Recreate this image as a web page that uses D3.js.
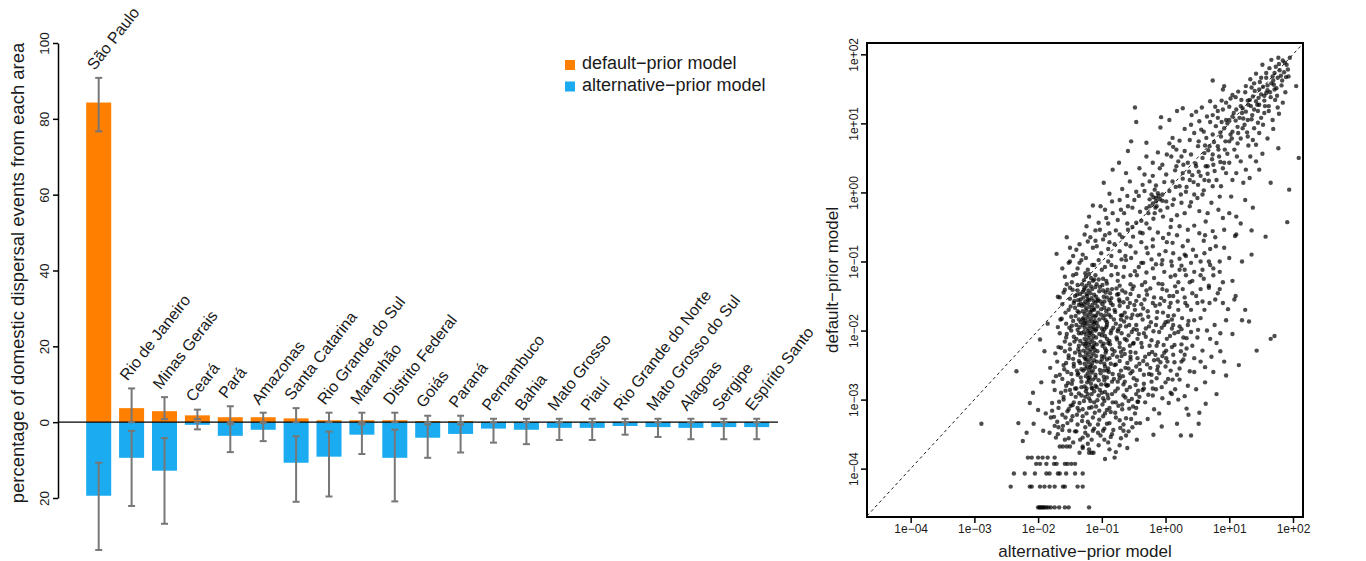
<!DOCTYPE html>
<html>
<head>
<meta charset="utf-8">
<script src="https://cdn.jsdelivr.net/npm/d3@7"></script>
<style>
  body { margin: 0; background: #fff; }
  text { font-family: "Liberation Sans", Arial, Helvetica, sans-serif; fill: #1a1a1a; }
</style>
</head>
<body>
<svg id="chart" width="1366" height="561"></svg>
<script>
// ---- bar chart data (percent of domestic dispersal events) ----
const regions = ["São Paulo", "Rio de Janeiro", "Minas Gerais", "Ceará", "Pará", "Amazonas", "Santa Catarina",
  "Rio Grande do Sul", "Maranhão", "Distrito Federal", "Goiás", "Paraná", "Pernambuco", "Bahia", "Mato Grosso",
  "Piauí", "Rio Grande do Norte", "Mato Grosso do Sul", "Alagoas", "Sergipe", "Espírito Santo"];
const defaultPct  = [84.3, 3.7, 2.9, 1.8, 1.3, 1.3, 1.0, 0.5, 0.5, 0.5, 0.3, 0.3, 0.1, 0.1, 0.1, 0.1, 0.1, 0.1, 0.1, 0.1, 0.1];
const defaultLow  = [76.7, 0.0, 0.8, 0.8, 0.0, 0.0, 0.0, 0.0, 0.0, 0.0, 0.0, 0.0, 0.0, 0.0, 0.0, 0.0, 0.0, 0.0, 0.0, 0.0, 0.0];
const defaultHigh = [90.8, 8.9, 6.6, 3.3, 4.2, 2.5, 3.7, 2.5, 2.5, 2.5, 1.7, 1.7, 0.9, 0.9, 0.9, 0.9, 0.9, 0.9, 0.9, 0.9, 0.9];
// alternative model is drawn downwards, values are positive percentages
const altPct  = [19.4, 9.4, 12.8, 0.7, 3.6, 2.0, 10.7, 9.1, 3.3, 9.4, 4.1, 3.1, 1.7, 2.0, 1.5, 1.5, 1.0, 1.3, 1.5, 1.3, 1.3];
const altLow  = [10.7, 2.3, 4.2, 0.0, 0.5, 0.2, 3.7, 2.5, 0.5, 2.0, 0.6, 0.6, 0.0, 0.0, 0.0, 0.0, 0.0, 0.0, 0.0, 0.0, 0.0];
const altHigh = [33.7, 22.1, 26.8, 1.9, 7.9, 5.0, 21.0, 19.6, 8.4, 20.9, 9.4, 8.0, 5.4, 5.8, 4.7, 4.7, 3.3, 3.9, 4.5, 4.5, 4.5];
const barTicks = [100, 80, 60, 40, 20, 0, -20];
const legendLabels = ["default\u2212prior model", "alternative\u2212prior model"];
const colors = ["#ff7f00", "#1aabf0"];

// ---- scatter data: [log10 alternative-prior, log10 default-prior] ----
const scatterUpper = [
  [1.63,1.80],[1.73,1.82],[1.79,1.77],[1.84,1.91],[1.71,1.73],[1.89,1.67],[1.76,1.66],[1.58,1.66],[1.50,1.66],[1.66,1.58],
  [1.53,1.53],[1.47,1.49],[1.39,1.58],[1.26,1.54],[1.71,1.49],[1.58,1.44],[1.37,1.39],[1.46,1.37],[1.32,1.34],[1.19,1.34],
  [1.21,1.22],[1.34,1.25],[1.47,1.27],[1.39,1.20],[1.26,1.17],[1.11,1.20],[1.00,1.24],[0.90,1.20],[1.05,1.10],[1.16,1.08],
  [1.29,1.05],[1.45,1.01],[1.53,0.98],[0.95,1.05],[0.82,1.08],[0.74,1.12],[0.79,0.96],[0.92,0.93],[1.05,0.88],[1.21,0.93],
  [1.29,0.81],[1.37,0.76],[1.42,0.69],[1.13,0.71],[1.00,0.74],[0.87,0.81],[0.74,0.84],[0.64,0.79],[0.69,0.67],[0.82,0.67],
  [0.56,0.91],[0.45,0.86],[0.53,1.03],[0.40,0.98],[0.38,0.76],[0.51,0.67],[0.61,0.57],[0.74,0.55],[0.92,0.43],[1.00,0.43],
  [1.11,0.28],[1.26,0.33],[1.32,0.21],[1.47,0.33],[0.87,0.09],[1.03,-0.06],[1.25,-0.11],[0.85,-0.06],[0.74,0.09],[0.61,0.18],
  [0.66,0.38],[0.48,0.38],[0.35,0.43],[0.25,0.52],[0.17,0.62],[0.06,0.71],[0.09,0.52],[0.17,0.38],[0.27,0.28],[0.38,0.18],
  [0.51,0.11],[0.58,-0.03],[0.45,-0.03],[0.32,0.01],[0.22,0.09],[0.11,0.16],[0.01,0.26],[-0.09,0.35],[-0.20,0.43],[-0.30,0.52],
  [-0.41,0.35],[-0.33,0.26],[-0.25,0.16],[-0.36,0.11],[-0.46,0.01],[-0.56,0.16],[-0.62,0.28],
  [0.74,1.62],[0.92,1.54],[0.70,1.32],[0.90,1.49],[1.05,1.41],[-0.48,1.23],[-0.46,1.02],[-0.07,1.09],[-0.08,0.94],[0.27,1.22],
  [0.48,1.17],[0.18,1.18],[0.06,1.05],[0.11,0.79],[-0.30,0.72],[-0.54,0.74],[-0.59,0.60],[-0.73,0.43],[-0.83,0.33],[-0.97,0.14],
  [2.05,1.54],[2.09,0.50],[1.94,0.04],[1.91,-0.43],[1.77,0.64],[1.65,0.14],[1.57,-0.64],[1.37,-0.22],
  [1.95,1.95],[1.90,1.85],[1.68,1.68],[1.60,1.55],[1.55,1.40],[1.62,1.25],[1.75,1.40],[1.82,1.55],[1.55,1.15],[1.68,1.05]
];
const scatterBand = [
  [1.81,1.69],[1.69,1.62],[1.86,1.74],[1.92,1.78],[1.74,1.51],[1.64,1.45],[1.55,1.33],[1.44,1.27],[1.36,1.12],[1.22,1.07],
  [1.13,0.95],[1.02,0.84],[0.94,0.74],[0.83,0.62],[0.73,0.48],[0.63,0.38],[0.55,0.24],[0.44,0.15],[0.33,0.08],[0.24,-0.03],
  [0.13,-0.10],[0.03,-0.22],[-0.08,-0.26],[-0.19,-0.38],[-0.30,-0.45],
  [1.58,1.73],[1.48,1.60],[1.40,1.47],[1.29,1.33],[1.18,1.25],[1.07,1.15],[0.97,1.00],[0.86,0.87],[0.76,0.73],[0.67,0.61],
  [0.58,0.50],[0.47,0.42],[0.37,0.30],[0.27,0.20],[0.16,0.08],[0.06,0.02],[-0.05,-0.12],[-0.16,-0.22],[-0.27,-0.30],[-0.38,-0.41],
  [1.72,1.34],[1.62,1.18],[1.50,1.08],[1.39,0.93],[1.28,0.87],[1.18,0.78],[1.08,0.62],[0.97,0.56],[0.86,0.44],[0.77,0.31],
  [0.68,0.17],[0.60,0.03],[0.50,-0.08],[0.40,-0.14],[0.30,-0.30],[0.18,-0.33],[0.08,-0.50],
  [1.66,1.92],[1.77,1.95],[1.52,1.85],[1.42,1.72],[1.33,1.64],[1.14,1.46],[1.02,1.36],[0.88,1.33],[0.78,1.24],[0.65,1.10],
  [0.57,1.23],[0.41,1.12],[0.30,0.92],[0.22,0.75],[0.12,0.66],[0.02,0.55],[-0.12,0.58],[-0.20,0.24],[-0.33,0.02],[-0.42,-0.05],
  [-0.52,-0.22],[-0.65,-0.30],
  [1.88,1.45],[1.84,1.30],[1.78,1.14],[1.69,0.92],[1.60,0.78],[1.52,0.56],[1.42,0.45],[1.33,0.52],[1.18,0.45],[1.22,0.14],
  [1.05,0.18],[0.95,0.28],[0.80,0.18],[0.72,-0.15],[0.63,-0.42],[0.83,-0.25],[1.00,-0.30],[1.18,-0.45],[1.35,-0.55],
  [0.40,0.55],[0.52,0.74],[0.60,0.88],[0.70,1.02],[0.82,1.18],[0.95,1.30],[1.10,1.38],[1.25,1.45],[1.35,1.52],[-0.02,0.15],
  [0.15,0.32],[0.28,0.40],[-0.25,-0.20],[-0.40,-0.28],[-0.60,-0.45],[-0.78,-0.55],[-0.95,-0.62],[-1.10,-0.70],[-0.70,-0.25],[-0.90,-0.45],
  [1.83,1.62],[1.70,1.56],[1.60,1.48],[1.50,1.42],[1.42,1.32],[1.30,1.27],[1.20,1.15],[1.10,1.04],[1.65,1.38],[1.56,1.25],
  [1.45,1.18],[1.35,1.06],[1.24,0.98],[1.14,0.86],[1.04,0.78],[0.93,0.62],[0.84,0.52],[0.75,0.40],[1.78,1.86],[1.87,1.88],
  [1.93,1.68],[1.76,1.23],[1.47,0.86],[1.30,0.68],[1.12,0.52],[0.90,0.35],[0.66,0.27],[0.52,0.30],[0.42,0.25],[0.30,0.60],
  [0.20,0.45],[-0.05,0.40],[-0.15,0.10],[0.62,0.68],[0.88,1.02],[1.00,1.05]
];
const scatterMiddle = [
  [-0.49,-0.11],[-0.59,-0.20],[-0.72,-0.11],[-0.30,-0.23],[-0.17,-0.30],[-0.04,-0.35],[0.09,-0.40],[0.22,-0.49],[0.35,-0.54],
  [0.53,-0.59],[0.74,-0.56],[0.92,-0.54],[1.11,-0.35],[1.11,-0.61],[0.90,-0.37],[0.66,-0.30],[0.53,-0.27],[0.38,-0.20],
  [0.25,-0.15],[0.11,-0.18],[0.01,-0.13],
  [-0.15,-0.08],[-0.22,-0.03],[-0.12,-0.01],[-0.15,-0.13],[-0.20,-0.16],[-0.09,-0.10],[-0.25,-0.10],[-0.14,-0.20],
  [-0.05,-0.03],[-0.17,0.04],[-0.11,-0.05],[-0.19,-0.07],
  [-0.83,-0.30],[-0.93,-0.37],[-0.75,-0.40],[-1.03,-0.54],[-0.88,-0.59],[-0.72,-0.61],[-0.59,-0.54],[-0.46,-0.44],
  [-0.51,-0.64],[-0.36,-0.59],[-0.20,-0.68],[-0.04,-0.66],[0.11,-0.73],[0.27,-0.78],[0.43,-0.83],[0.61,-0.88],[0.79,-0.78],
  [0.92,-0.80],[1.09,-0.63],[-1.22,-0.71],[-1.14,-0.80],[-1.01,-0.88],[-0.85,-0.92],[-0.69,-0.97],[-0.54,-0.95],[-0.38,-1.02],
  [-0.22,-0.97],[-0.06,-1.04],[0.09,-1.00],[0.25,-1.06],[0.40,-1.02],[0.32,-0.92],[-1.40,-0.83],[-1.71,-0.89],[-1.27,-0.61],
  [-0.84,-0.13],[-1.14,-0.19],[-1.24,-0.49],[-1.05,-0.44],[-0.95,-0.25],[-0.62,-0.75],[-0.30,-0.80],[0.00,-0.85],[0.55,-1.00],
  [0.75,-1.10],[-1.55,-0.65],[-1.50,-1.00],[-1.30,-0.90],
  [-1.35,-0.75],[-1.18,-0.65],[-1.08,-0.78],[-0.98,-0.68],[-0.90,-0.82],[-0.80,-0.75],[-0.72,-0.85],[-0.63,-0.92],[-0.55,-0.78],
  [-0.47,-0.87],[-0.38,-0.72],[-0.28,-0.88],[-0.20,-0.78],[-0.10,-0.90],[0.02,-0.72],[0.12,-0.88],[0.22,-0.96],[0.35,-0.70],
  [0.48,-0.92],[0.60,-0.70],[0.70,-0.82],[0.85,-1.00],
  [-1.45,-0.92],[-1.35,-1.02],[-1.25,-0.95],[-1.15,-1.05],[-1.05,-0.98],[-0.95,-1.08],[-0.85,-1.05],[-0.75,-1.18],[-0.65,-1.08],
  [-0.55,-1.20],[-0.42,-1.08],[-0.30,-1.16],[-0.15,-1.04],[-0.02,-1.15],[0.15,-1.20],[0.30,-1.12],[0.42,-1.28],[0.58,-1.12],
  [0.68,-1.38],[0.85,-1.15],
  [-1.45,-1.20],[-1.25,-1.22],[-1.12,-1.26],[-1.50,-0.80],[-1.62,-1.10],[-1.10,-0.55],[-0.88,-0.72],[-0.68,-0.65],[-0.52,-0.50],
  [-0.40,-0.58],[-0.25,-0.52],[-0.12,-0.58],[0.05,-0.60],[0.18,-0.62],[0.30,-0.90],[0.45,-0.48],[0.62,-0.62],[0.78,-0.65],
  [-1.20,-0.35],[-1.02,-0.20],[-0.88,-0.02],[-0.68,0.05],[-0.60,-0.05]
];
// very dense vertical streak just above 1e-01 on the x axis
const scatterCore = [
  [-1.28,-1.27],[-1.20,-1.31],[-1.14,-1.28],[-1.08,-1.33],[-1.24,-1.35],[-1.17,-1.24],[-1.31,-1.33],[-1.05,-1.26],
  [-1.27,-1.38],[-1.21,-1.42],[-1.15,-1.40],[-1.10,-1.37],[-1.30,-1.44],[-1.04,-1.43],[-1.18,-1.46],[-1.24,-1.47],[-1.12,-1.48],
  [-1.29,-1.52],[-1.23,-1.50],[-1.16,-1.53],[-1.09,-1.51],[-1.20,-1.56],[-1.13,-1.57],[-1.26,-1.58],[-1.06,-1.55],[-1.33,-1.55],
  [-1.28,-1.62],[-1.22,-1.61],[-1.15,-1.63],[-1.10,-1.60],[-1.19,-1.66],[-1.25,-1.67],[-1.07,-1.65],[-1.31,-1.64],[-1.13,-1.68],
  [-1.30,-1.72],[-1.24,-1.71],[-1.18,-1.73],[-1.12,-1.70],[-1.06,-1.74],[-1.21,-1.77],[-1.15,-1.78],[-1.27,-1.76],[-1.09,-1.78],
  [-1.29,-1.82],[-1.23,-1.81],[-1.17,-1.83],[-1.11,-1.80],[-1.04,-1.84],[-1.20,-1.87],[-1.14,-1.88],[-1.26,-1.86],[-1.08,-1.89],
  [-1.30,-1.92],[-1.24,-1.91],[-1.18,-1.93],[-1.12,-1.90],[-1.06,-1.94],[-1.21,-1.97],[-1.15,-1.98],[-1.27,-1.96],[-1.09,-1.98],
  [-1.28,-2.02],[-1.22,-2.01],[-1.16,-2.03],[-1.10,-2.00],[-1.04,-2.05],[-1.19,-2.07],[-1.13,-2.08],[-1.25,-2.06],[-1.32,-2.04],
  [-1.27,-2.12],[-1.21,-2.11],[-1.15,-2.13],[-1.09,-2.10],[-1.18,-2.17],[-1.12,-2.18],[-1.24,-2.16],[-1.30,-2.19],
  [-1.26,-2.22],[-1.20,-2.21],[-1.14,-2.23],[-1.08,-2.20],[-1.17,-2.27],[-1.11,-2.28],[-1.23,-2.26],[-1.29,-2.29],
  [-1.25,-2.32],[-1.19,-2.31],[-1.13,-2.33],[-1.07,-2.30],[-1.16,-2.37],[-1.22,-2.36],[-1.28,-2.38],
  [-1.24,-2.42],[-1.18,-2.41],[-1.12,-2.43],[-1.15,-2.47],[-1.21,-2.46],[-1.27,-2.48],[-1.08,-2.45],
  [-1.23,-2.52],[-1.17,-2.51],[-1.11,-2.53],[-1.20,-2.57],[-1.14,-2.58],[-1.26,-2.55],
  [-1.22,-2.62],[-1.16,-2.61],[-1.10,-2.64],[-1.19,-2.67],[-1.25,-2.66],
  [-1.20,-2.72],[-1.14,-2.71],[-1.17,-2.77],[-1.23,-2.75],
  [-1.34,-1.47],[-1.37,-1.56],[-1.33,-1.88],[-1.34,-2.15],[-1.34,-2.47],[-1.33,-2.68],
  [-1.03,-1.37],[-1.02,-1.58],[-1.01,-1.77],[-1.00,-1.97],[-1.02,-2.16],[-1.00,-2.37],[-1.03,-2.57],[-1.01,-2.78],
  [-1.20,-1.18],[-1.10,-1.20],[-1.26,-1.17],[-1.16,-2.83],[-1.22,-2.92],[-1.12,-2.88],[-1.27,-2.81],
  [-1.28,-1.41],[-1.22,-1.55],[-1.16,-1.71],[-1.11,-1.86],[-1.27,-1.89],[-1.19,-2.03],[-1.13,-2.24],[-1.26,-2.41],[-1.18,-2.53],
  [-1.10,-2.68],[-1.29,-2.58],[-1.21,-2.69],[-1.09,-2.37],[-1.25,-2.19],[-1.13,-1.95],[-1.07,-1.57],[-1.30,-1.84],[-1.17,-1.36]
];
const scatterCloud = [
  [-1.52,-1.02],[-1.38,-1.10],[-1.32,-0.98],[-1.00,-1.12],[-0.90,-1.00],[-0.78,-1.08],[-0.62,-0.98],[-0.48,-1.14],[-0.35,-1.02],
  [-0.20,-1.10],[-0.05,-0.98],[0.10,-1.06],[0.22,-1.12],[-1.22,-1.12],[-1.12,-1.05],
  [-1.58,-1.22],[-1.47,-1.30],[-1.40,-1.18],[-0.98,-1.25],[-0.92,-1.32],[-0.85,-1.20],[-0.75,-1.28],[-0.66,-1.22],[-0.55,-1.33],
  [-0.45,-1.20],[-0.32,-1.30],[-0.18,-1.24],[-0.05,-1.33],[0.08,-1.22],[0.20,-1.30],[0.32,-1.20],[-0.72,-1.35],[-1.38,-1.34],
  [-1.60,-1.45],[-1.50,-1.38],[-1.42,-1.50],[-0.98,-1.42],[-0.92,-1.52],[-0.84,-1.40],[-0.76,-1.48],[-0.68,-1.42],[-0.60,-1.54],
  [-0.52,-1.40],[-0.42,-1.50],[-0.30,-1.42],[-0.18,-1.52],[-0.05,-1.40],[0.06,-1.50],[0.18,-1.44],[0.30,-1.52],[-0.88,-1.56],
  [-0.72,-1.58],[-1.38,-1.42],[0.42,-1.46],
  [-1.62,-1.62],[-1.52,-1.70],[-1.44,-1.60],[-1.38,-1.72],[-0.99,-1.62],[-0.93,-1.72],[-0.86,-1.60],[-0.80,-1.70],[-0.72,-1.64],
  [-0.64,-1.74],[-0.56,-1.60],[-0.48,-1.70],[-0.38,-1.62],[-0.28,-1.72],[-0.16,-1.64],[-0.04,-1.74],[0.08,-1.60],[0.20,-1.70],
  [0.34,-1.64],[-0.95,-1.78],[-0.68,-1.78],[-0.44,-1.78],
  [-1.65,-1.84],[-1.56,-1.90],[-1.48,-1.80],[-1.40,-1.92],[-0.98,-1.82],[-0.92,-1.92],[-0.86,-1.80],[-0.78,-1.90],[-0.70,-1.84],
  [-0.62,-1.94],[-0.54,-1.82],[-0.46,-1.92],[-0.36,-1.84],[-0.26,-1.94],[-0.14,-1.82],[-0.02,-1.92],[0.10,-1.84],[0.22,-1.94],
  [0.36,-1.86],[-0.96,-1.98],[-0.74,-1.98],[-0.50,-1.98],[-1.36,-1.84],
  [-1.66,-2.04],[-1.56,-2.10],[-1.48,-2.00],[-1.40,-2.12],[-1.36,-2.04],[-0.98,-2.02],[-0.92,-2.12],[-0.85,-2.00],[-0.77,-2.10],
  [-0.69,-2.04],[-0.61,-2.14],[-0.53,-2.02],[-0.44,-2.12],[-0.34,-2.04],[-0.22,-2.14],[-0.10,-2.02],[0.02,-2.12],[0.14,-2.04],
  [0.28,-2.10],[0.40,-2.02],[-0.90,-2.18],[-0.72,-2.18],[-0.50,-2.18],
  [-1.68,-2.24],[-1.58,-2.30],[-1.50,-2.20],[-1.42,-2.32],[-1.36,-2.22],[-0.99,-2.22],[-0.94,-2.32],[-0.87,-2.20],[-0.80,-2.30],
  [-0.72,-2.24],[-0.64,-2.34],[-0.56,-2.22],[-0.47,-2.32],[-0.37,-2.24],[-0.26,-2.34],[-0.14,-2.22],[-0.02,-2.32],[0.10,-2.24],
  [0.24,-2.30],[-0.96,-2.38],[-0.76,-2.38],[-0.55,-2.38],[-1.34,-2.36],
  [-1.70,-2.45],[-1.60,-2.50],[-1.52,-2.40],[-1.44,-2.52],[-1.36,-2.44],[-1.00,-2.42],[-0.95,-2.52],[-0.88,-2.40],[-0.80,-2.50],
  [-0.72,-2.44],[-0.63,-2.54],[-0.55,-2.42],[-0.46,-2.52],[-0.35,-2.44],[-0.24,-2.54],[-0.12,-2.42],[0.00,-2.52],[0.14,-2.46],
  [0.28,-2.42],[-0.92,-2.58],[-0.70,-2.58],[-1.32,-2.56],
  [-1.72,-2.66],[-1.62,-2.70],[-1.54,-2.60],[-1.46,-2.72],[-1.38,-2.64],[-1.32,-2.74],[-1.02,-2.62],[-0.96,-2.72],[-0.89,-2.60],
  [-0.81,-2.70],[-0.73,-2.64],[-0.64,-2.74],[-0.55,-2.62],[-0.45,-2.72],[-0.34,-2.64],[-0.22,-2.74],[-0.10,-2.62],[0.04,-2.70],
  [0.18,-2.64],[-0.94,-2.78],[-0.66,-2.78],
  [-1.74,-2.86],[-1.64,-2.90],[-1.56,-2.80],[-1.48,-2.92],[-1.40,-2.84],[-1.32,-2.94],[-1.24,-2.84],[-1.16,-2.92],[-1.08,-2.82],
  [-1.00,-2.90],[-0.92,-2.80],[-0.84,-2.92],[-0.75,-2.84],[-0.66,-2.94],[-0.56,-2.82],[-0.46,-2.92],[-0.34,-2.84],[-0.20,-2.94],
  [-0.06,-2.82],[0.08,-2.90],[-1.20,-2.98],[-0.90,-2.98],
  [-1.78,-3.05],[-1.68,-3.12],[-1.60,-3.00],[-1.52,-3.14],[-1.44,-3.04],[-1.36,-3.16],[-1.28,-3.02],[-1.20,-3.12],[-1.12,-3.04],
  [-1.04,-3.16],[-0.96,-3.02],[-0.88,-3.12],[-0.78,-3.04],[-0.68,-3.14],[-0.58,-3.02],[-0.46,-3.12],[-0.32,-3.04],[-0.18,-3.14],
  [-1.24,-3.20],[-0.95,-3.20],
  [-1.80,-3.26],[-1.70,-3.32],[-1.62,-3.22],[-1.54,-3.34],[-1.46,-3.24],[-1.38,-3.36],[-1.30,-3.24],[-1.22,-3.32],[-1.14,-3.26],
  [-1.06,-3.36],[-0.98,-3.24],[-0.88,-3.34],[-0.78,-3.26],[-0.66,-3.36],[-0.54,-3.28],[-0.40,-3.34],[-1.26,-3.40],[-0.96,-3.42],
  [-1.82,-3.48],[-1.72,-3.55],[-1.62,-3.44],[-1.52,-3.56],[-1.42,-3.46],[-1.34,-3.58],[-1.26,-3.48],[-1.16,-3.58],[-1.06,-3.48],
  [-0.96,-3.58],[-0.84,-3.50],[-0.70,-3.56],[-0.58,-3.46],[-1.22,-3.64],[-1.30,-3.70],[-1.20,-3.72]
];
const scatterDense = [
  [-1.43,-1.57],[-1.36,-1.63],[-1.41,-1.79],[-1.35,-1.95],[-1.44,-2.09],[-1.37,-2.27],[-1.45,-2.41],[-1.39,-2.58],[-1.47,-2.77],[-1.41,-2.96],
  [-0.97,-1.51],[-1.01,-1.69],[-0.94,-1.85],[-1.00,-2.07],[-0.95,-2.26],[-1.02,-2.46],[-0.97,-2.67],[-1.03,-2.86],[-0.99,-3.07],[-1.04,-3.29],
  [-0.87,-1.46],[-0.83,-1.63],[-0.89,-1.77],[-0.82,-1.96],[-0.88,-2.15],[-0.83,-2.35],[-0.90,-2.55],[-0.84,-2.74],[-0.91,-2.93],[-0.86,-3.18],
  [-0.77,-1.39],[-0.73,-1.55],[-0.79,-1.73],[-0.71,-1.93],[-0.76,-2.13],[-0.70,-2.31],[-0.78,-2.49],[-0.72,-2.69],[-0.79,-2.88],[-0.74,-3.09],
  [-0.63,-1.45],[-0.59,-1.66],[-0.65,-1.87],[-0.58,-2.07],[-0.66,-2.27],[-0.60,-2.47],[-0.67,-2.66],[-0.61,-2.86],[-0.68,-3.07],[-0.62,-3.27],
  [-0.50,-1.36],[-0.46,-1.57],[-0.52,-1.77],[-0.45,-1.99],[-0.51,-2.19],[-0.44,-2.40],[-0.52,-2.59],[-0.47,-2.79],[-0.53,-2.99],[-0.48,-3.20],
  [-0.37,-1.34],[-0.33,-1.55],[-0.39,-1.77],[-0.31,-1.97],[-0.38,-2.18],[-0.32,-2.38],[-0.40,-2.57],[-0.34,-2.77],[-0.41,-2.96],
  [-0.24,-1.39],[-0.20,-1.60],[-0.27,-1.80],[-0.19,-2.01],[-0.25,-2.22],[-0.18,-2.43],[-0.26,-2.63],[-0.20,-2.84],
  [-0.11,-1.32],[-0.07,-1.53],[-0.13,-1.73],[-0.06,-1.96],[-0.12,-2.17],[-0.05,-2.37],[-0.13,-2.57],
  [0.02,-1.42],[0.06,-1.66],[0.00,-1.88],[0.07,-2.08],[0.01,-2.29],[0.08,-2.58],
  [0.15,-1.36],[0.19,-1.58],[0.13,-1.78],[0.20,-2.02],[0.14,-2.21],
  [0.27,-1.40],[0.31,-1.60],[0.26,-1.82],[0.33,-2.26],
  [-1.55,-1.33],[-1.50,-1.54],[-1.57,-1.74],[-1.51,-1.96],[-1.58,-2.16],[-1.52,-2.36],[-1.59,-2.56],[-1.53,-2.76],[-1.60,-2.96],
  [-1.54,-3.17],[-1.61,-3.38],[-1.66,-1.52],[-1.69,-1.95],[-1.73,-2.33],[-1.76,-2.74],[-1.78,-3.16],[-1.74,-3.38],
  [-1.35,-3.05],[-1.30,-3.14],[-1.18,-3.02],[-1.09,-3.10],[-1.25,-2.88],[-1.15,-2.84],[-1.05,-2.94],
  [-0.93,-1.28],[-0.94,-1.45],[-0.96,-1.67],[-0.92,-1.88],[-0.95,-2.08],[-0.93,-2.29],[-0.96,-2.48],[-0.92,-2.68],[-0.95,-2.89],
  [-1.48,-3.30],[-1.40,-3.46],[-1.30,-3.55],[-1.12,-3.42],[-1.02,-3.52],[-0.92,-3.35],[-0.82,-3.44],[-0.72,-3.30],[-0.62,-3.52],
  [-0.52,-3.40],[-1.58,-3.58],[-1.45,-3.62],[-1.05,-3.66],[-0.90,-3.62],[-0.78,-3.76],[-1.68,-3.40],[-1.75,-3.25],[-0.45,-3.58],
  [-1.46,-1.41],[-1.39,-1.48],[-1.33,-1.61],[-1.42,-1.67],[-1.36,-1.74],[-1.45,-1.86],[-1.38,-1.99],[-1.43,-2.16],[-1.35,-2.31],
  [-1.44,-2.48],[-1.37,-2.62],[-1.42,-2.84],[-1.36,-2.91],[-1.46,-3.08],[-1.39,-3.22],[-1.31,-3.31],[-1.19,-3.36],[-1.11,-3.19],
  [-1.07,-3.01],[-1.16,-3.11],
  [-0.99,-1.34],[-0.91,-1.41],[-0.85,-1.53],[-0.96,-1.58],[-0.89,-1.69],[-0.81,-1.84],[-0.93,-1.95],[-0.86,-2.04],[-0.97,-2.19],
  [-0.84,-2.27],[-0.92,-2.42],[-0.86,-2.48],[-0.97,-2.58],[-0.83,-2.63],[-0.90,-2.79],[-0.98,-2.98],[-0.83,-3.04],[-0.92,-3.15],
  [-0.79,-3.19],[-0.71,-3.41],
  [-0.74,-1.47],[-0.66,-1.59],[-0.70,-1.78],[-0.61,-1.81],[-0.75,-2.01],[-0.64,-2.12],[-0.69,-2.37],[-0.58,-2.55],[-0.75,-2.74],
  [-0.63,-2.97],[-0.55,-1.47],[-0.49,-1.63],[-0.57,-1.92],[-0.42,-2.05],[-0.55,-2.31],[-0.41,-2.48],[-0.50,-2.69],[-0.43,-2.87],
  [-0.57,-3.13],[-0.44,-3.03],[-0.29,-1.48],[-0.35,-1.68],[-0.23,-1.88],[-0.31,-2.09],[-0.21,-2.31],[-0.29,-2.49],[-0.14,-2.69],
  [-0.27,-2.93],[-0.09,-1.62],[-0.15,-1.92],[-0.03,-2.21],[0.04,-1.79],[0.10,-1.97],[-0.08,-2.46],[0.12,-1.50],[0.03,-2.45],
  [-0.02,-1.57],[-0.16,-2.35],
  [-1.58,-1.41],[-1.63,-1.83],[-1.55,-2.05],[-1.64,-2.25],[-1.56,-2.47],[-1.66,-2.64],[-1.57,-2.87],[-1.67,-3.03],[-1.57,-3.26],
  [-1.69,-3.50],[-1.49,-1.65],[-1.47,-1.93],[-1.50,-2.27],[-1.48,-2.63],[-1.50,-2.86],[-1.49,-3.09],[-1.51,-3.45],
  [-1.32,-2.82],[-1.26,-2.96],[-1.10,-2.80],[-1.05,-2.72],[-1.38,-3.12],[-1.14,-3.45],[-1.22,-3.52],[-0.98,-3.45],[-0.86,-3.54],
  [-0.66,-3.45]
];
const scatterRight = [
  [0.04,-1.87],[0.12,-1.92],[0.25,-1.98],[0.33,-2.11],[0.51,-1.99],[0.61,-1.70],[0.69,-1.60],[0.82,-1.46],[0.98,-1.69],
  [0.77,-1.92],[0.86,-2.04],[0.80,-2.18],[0.58,-2.29],[0.45,-2.40],[0.38,-2.59],[0.22,-2.71],[0.11,-2.71],[0.01,-2.40],
  [-0.12,-2.52],[-0.22,-2.64],[-0.36,-2.86],[-0.43,-3.03],[-0.51,-3.10],[-0.46,-3.34],[-0.28,-3.28],[-0.19,-3.51],[-0.06,-3.39],
  [0.18,-3.35],[0.24,-3.52],[0.40,-3.52],[0.33,-3.13],[0.36,-3.22],[0.53,-3.19],[0.63,-3.06],[0.80,-2.92],[0.62,-2.53],
  [0.72,-2.38],[0.86,-2.30],[1.31,-1.87],[1.43,-2.29],[1.65,-2.12],[1.71,-2.08],[0.45,-1.15],[0.60,-1.25],[0.75,-1.20],
  [0.90,-1.30],[1.05,-1.28],[0.55,-1.40],[0.70,-1.05],[0.85,-1.40],[0.50,-1.60],[0.45,-1.85],[0.40,-1.70],[0.50,-2.10],
  [0.30,-2.35],[0.45,-2.60],[0.25,-2.45],[0.15,-2.85],[0.30,-2.95],[0.05,-3.05],[-0.10,-3.20],[1.00,-0.95],[1.20,-1.00],
  [1.35,-0.90],[1.10,-1.50],[1.25,-1.70],[0.95,-1.85],[1.05,-2.05],[1.15,-2.50],[0.95,-2.65],
  [0.38,-1.30],[0.48,-1.50],[0.58,-1.58],[0.68,-1.35],[0.78,-1.55],[0.90,-1.60],[0.35,-1.92],[0.55,-1.82],[0.65,-2.00],
  [0.70,-2.12],[0.42,-2.22],[0.55,-2.45],[0.35,-2.80],[0.48,-2.85],[0.20,-3.00],[0.10,-2.92],[-0.05,-2.98],[-0.15,-2.85],
  [0.00,-2.75],[0.22,-2.55],[0.12,-2.35],[0.25,-2.20],[0.62,-2.75],[0.75,-2.60],[0.52,-3.35],[1.08,-1.55],[1.20,-1.85],
  [0.92,-2.45],[0.55,-1.20],[0.68,-1.00]
];
const scatterLeft = [
  [-2.89,-3.35],[-2.34,-2.59],[-1.97,-2.13],[-1.69,-1.51],[-1.81,-2.54],[-2.08,-2.90],[-2.13,-3.05],[-2.31,-3.34],
  [-2.18,-3.48],[-2.24,-3.60],[-2.07,-3.35],[-1.90,-2.30],[-1.85,-1.90],[-1.95,-2.75],[-2.00,-3.15],[-1.88,-3.20],[-1.92,-3.45],
  [-1.35,-3.77],[-1.20,-3.77],[-1.16,-3.77],[-1.13,-3.77],[-1.66,-3.68],[-1.61,-3.68],[-1.55,-3.68],[-1.50,-3.68],[-1.30,-3.68],
  [-0.88,-3.72],[-0.72,-3.66],[-0.60,-3.70],[-0.95,-3.86],[-0.80,-3.84]
];
// discrete rows at the bottom (smallest non-zero rates)
const rowLevels = [-4.56, -4.26, -4.07, -3.93, -3.84];
const rowValues = [
  [-2.00, -1.98, -1.96, -1.94, -1.92, -1.90, -1.87, -1.84, -1.80, -1.74, -1.67, -1.58, -1.52, -1.20],
  [-2.43, -2.13, -2.10, -1.97, -1.90, -1.82, -1.74, -1.61, -1.58, -1.38, -1.30],
  [-2.38, -2.21, -2.05, -1.87, -1.82, -1.69, -1.66, -1.56, -1.42, -1.30],
  [-2.03, -1.97, -1.87, -1.75, -1.71, -1.58, -1.54, -1.48, -1.42],
  [-2.16, -2.10, -2.00, -1.93, -1.85, -1.74]
];
const logTicks = [-4, -3, -2, -1, 0, 1, 2];

const svg = d3.select("#chart");

// ================= left: bar chart =================
const y = d3.scaleLinear().domain([-20, 100]).range([498, 43]);
const x = d3.scaleBand().domain(regions).range([82.25, 773.15]).paddingInner(0.24).paddingOuter(0.12);
const bars = svg.append("g");

const rows = regions.map((r, i) => ({
  name: r, def: defaultPct[i], dLo: defaultLow[i], dHi: defaultHigh[i],
  alt: altPct[i], aLo: altLow[i], aHi: altHigh[i]
}));

bars.selectAll(".alt").data(rows).enter().append("rect")
  .attr("x", d => x(d.name)).attr("width", x.bandwidth())
  .attr("y", y(0)).attr("height", d => y(-d.alt) - y(0))
  .attr("fill", colors[1]);
bars.selectAll(".def").data(rows).enter().append("rect")
  .attr("x", d => x(d.name)).attr("width", x.bandwidth())
  .attr("y", d => y(d.def)).attr("height", d => y(0) - y(d.def))
  .attr("fill", colors[0]);

// zero line
bars.append("line")
  .attr("x1", 58).attr("x2", 778).attr("y1", y(0)).attr("y2", y(0))
  .attr("stroke", "#000").attr("stroke-width", 1.2);

// error bars
function errorBar(g, cx, v1, v2) {
  g.append("line").attr("x1", cx).attr("x2", cx).attr("y1", y(v1)).attr("y2", y(v2));
  [v1, v2].forEach(v => g.append("line").attr("x1", cx - 3.5).attr("x2", cx + 3.5).attr("y1", y(v)).attr("y2", y(v)));
}
const errG = bars.append("g").attr("stroke", "#777").attr("stroke-width", 2);
rows.forEach(d => {
  const cx = x(d.name) + x.bandwidth() / 2;
  errorBar(errG, cx, d.dLo, d.dHi);
  errorBar(errG, cx, -d.aLo, -d.aHi);
});

// rotated region labels
bars.selectAll(".lab").data(rows).enter().append("text")
  .attr("transform", d => {
    const cx = x(d.name) + x.bandwidth() / 2 - 4;
    const top = y(Math.max(d.def, d.dHi)) - 7;
    return `translate(${cx},${top}) rotate(-52)`;
  })
  .style("font-size", "16px")
  .text(d => d.name);

// y axis
const yAxis = svg.append("g").attr("transform", "translate(58,0)")
  .call(d3.axisLeft(y).tickValues(barTicks).tickFormat(d => Math.abs(d)).tickSize(5).tickSizeOuter(0));
yAxis.select(".domain").attr("stroke", "#000").attr("stroke-width", 1.5);
yAxis.selectAll(".tick line").attr("stroke", "#000").attr("stroke-width", 1.5);
yAxis.selectAll(".tick text")
  .attr("x", null).attr("dy", null)
  .attr("text-anchor", "middle")
  .attr("transform", "translate(-9,0) rotate(-90)")
  .style("font-size", "13.5px").style("font-family", "'Liberation Sans', Arial, sans-serif").attr("fill", "#1a1a1a");

svg.append("text")
  .attr("transform", "translate(24,273) rotate(-90)")
  .attr("text-anchor", "middle")
  .style("font-size", "18.5px")
  .text("percentage of domestic dispersal events from each area");

// legend
const legend = svg.append("g");
legendLabels.forEach((lab, i) => {
  legend.append("rect").attr("x", 565).attr("y", 60 + i * 21.5).attr("width", 10).attr("height", 10).attr("fill", colors[i]);
  legend.append("text").attr("x", 582).attr("y", 69 + i * 21.5).style("font-size", "18px").text(lab);
});

// ================= right: scatter =================
const xs = d3.scaleLog().domain([Math.pow(10, -4.685), Math.pow(10, 2.157)]).range([867, 1303]);
const ys = d3.scaleLog().domain([Math.pow(10, -4.70), Math.pow(10, 2.164)]).range([517, 43]);
const sc = svg.append("g");

const rowPoints = rowLevels.flatMap((lv, i) => rowValues[i].map(v => [v, lv]));
const points = [].concat(scatterUpper, scatterBand, scatterMiddle, scatterCore, scatterCloud, scatterDense,
  scatterRight, scatterLeft, rowPoints);

sc.append("clipPath").attr("id", "box").append("rect").attr("x", 867).attr("y", 43).attr("width", 436).attr("height", 474);
const inner = sc.append("g").attr("clip-path", "url(#box)");

const diagLo = Math.pow(10, -4.685), diagHi = Math.pow(10, 2.164);
inner.append("line")
  .attr("x1", xs(diagLo)).attr("y1", ys(diagLo)).attr("x2", xs(diagHi)).attr("y2", ys(diagHi))
  .attr("stroke", "#000").attr("stroke-width", 0.9).attr("stroke-dasharray", "3,3");

inner.selectAll("circle").data(points).enter().append("circle")
  .attr("cx", d => xs(Math.pow(10, d[0])))
  .attr("cy", d => ys(Math.pow(10, d[1])))
  .attr("r", 2.2)
  .attr("fill", "#000").attr("fill-opacity", 0.7);

sc.append("rect").attr("x", 867).attr("y", 43).attr("width", 436).attr("height", 474)
  .attr("fill", "none").attr("stroke", "#000").attr("stroke-width", 2);

const fmtLog = d => {
  const e = Math.round(Math.log10(d));
  return "1e" + (e < 0 ? "\u2212" : "+") + String(Math.abs(e)).padStart(2, "0");
};
const tickVals = logTicks.map(e => Math.pow(10, e));

const xAx = sc.append("g").attr("transform", "translate(0,517)")
  .call(d3.axisBottom(xs).tickValues(tickVals).tickFormat(fmtLog).tickSize(6).tickSizeOuter(0));
xAx.select(".domain").remove();
xAx.selectAll(".tick line").attr("stroke", "#000").attr("stroke-width", 1.5);
xAx.selectAll(".tick text").attr("y", 16).attr("dy", null)
  .style("font-size", "12px").style("font-family", "'Liberation Sans', Arial, sans-serif").attr("fill", "#1a1a1a");

const yAx = sc.append("g").attr("transform", "translate(867,0)")
  .call(d3.axisLeft(ys).tickValues(tickVals).tickFormat(fmtLog).tickSize(6).tickSizeOuter(0));
yAx.select(".domain").remove();
yAx.selectAll(".tick line").attr("stroke", "#000").attr("stroke-width", 1.5);
yAx.selectAll(".tick text")
  .attr("x", null).attr("dy", null).attr("text-anchor", "middle")
  .attr("transform", "translate(-9,0) rotate(-90)")
  .style("font-size", "12px").style("font-family", "'Liberation Sans', Arial, sans-serif").attr("fill", "#1a1a1a");

sc.append("text").attr("x", 1085).attr("y", 557).attr("text-anchor", "middle")
  .style("font-size", "17px").text("alternative\u2212prior model");
sc.append("text").attr("transform", "translate(838,280) rotate(-90)").attr("text-anchor", "middle")
  .style("font-size", "17px").text("default\u2212prior model");
</script>
</body>
</html>
